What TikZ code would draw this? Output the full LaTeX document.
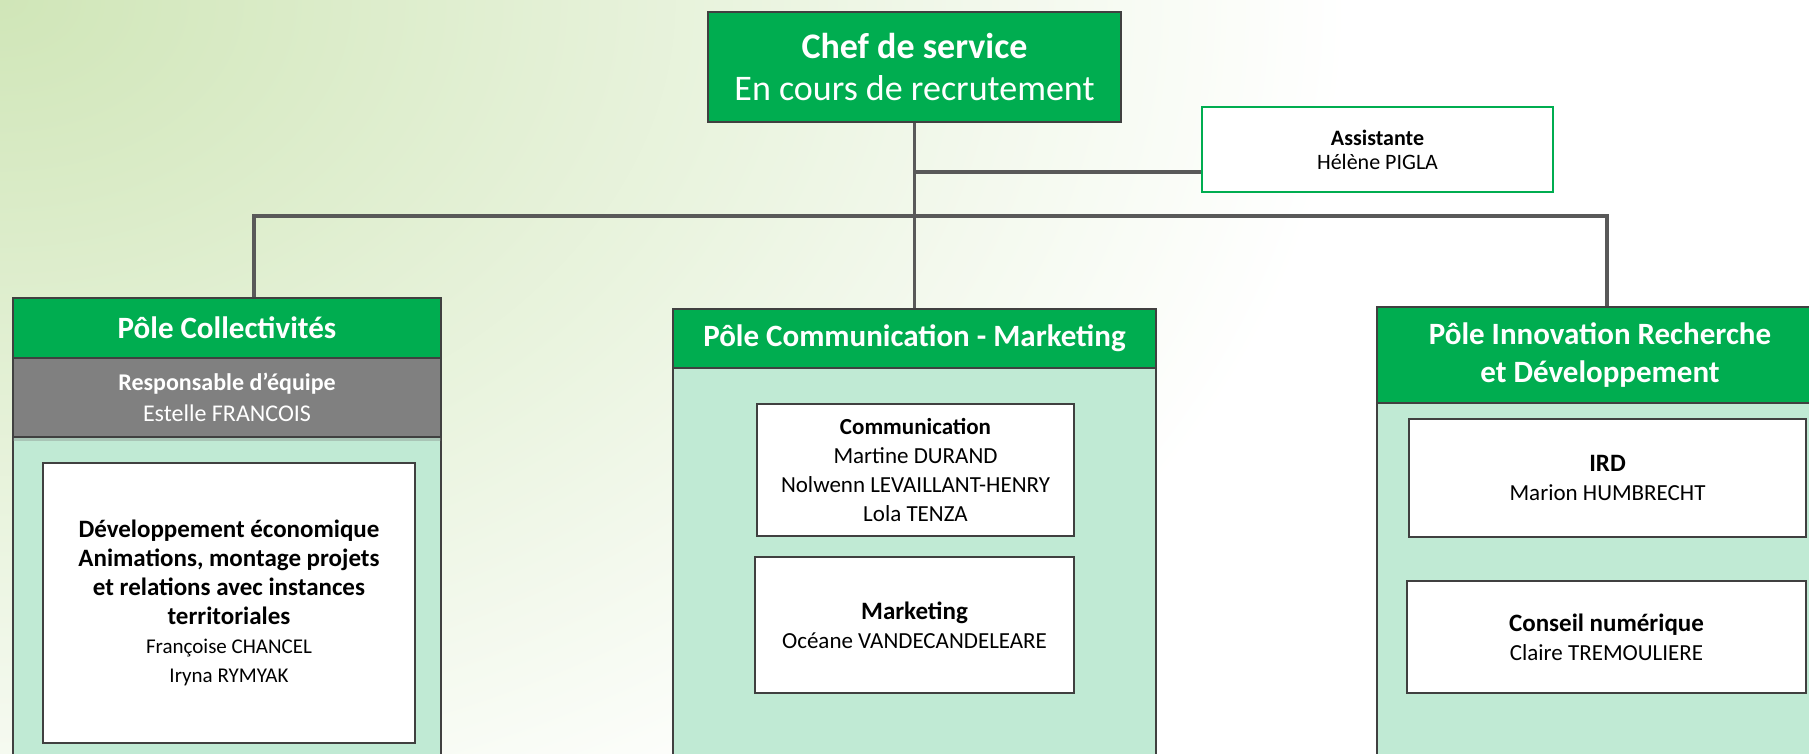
\documentclass[tikz,border=0pt]{standalone}
\usepackage{fontspec}
\setmainfont{Carlito}
\usetikzlibrary{shadows}

\definecolor{hdgreen}{RGB}{0,173,80}
\definecolor{bodygreen}{RGB}{192,234,212}
\definecolor{edgegray}{RGB}{64,64,64}
\definecolor{linegray}{RGB}{89,89,89}
\definecolor{bandgray}{RGB}{128,128,128}
\definecolor{bgcorner}{RGB}{208,230,184}

\begin{document}
\begin{tikzpicture}[x=1pt,y=-1pt]
    % Define node styles
    \tikzstyle{chefnode}=[rectangle, fill=hdgreen, draw=edgegray, line width=1.5pt, inner sep=0pt, text=white, align=center, font=\fontsize{36}{42}\selectfont]
    \tikzstyle{asstnode}=[rectangle, fill=white, draw=hdgreen, line width=1.5pt, inner sep=0pt, align=center, font=\fontsize{22}{24}\selectfont]
    \tikzstyle{polebody}=[rectangle, fill=bodygreen, draw=edgegray, line width=1.5pt, inner sep=0pt]
    \tikzstyle{polehead}=[rectangle, fill=hdgreen, draw=edgegray, line width=1.5pt, inner sep=0pt, text=white, align=center, font=\bfseries\fontsize{31}{38}\selectfont]
    \tikzstyle{bandnode}=[rectangle, fill=bandgray, draw=edgegray, line width=1.5pt, inner sep=0pt, text=white, align=center, font=\fontsize{24}{31}\selectfont, drop shadow={opacity=0.35, shadow xshift=0pt, shadow yshift=-4pt}]
    \tikzstyle{unitnode}=[rectangle, fill=white, draw=edgegray, line width=1.5pt, inner sep=0pt, align=center, font=\fontsize{23}{29}\selectfont]
    \tikzstyle{orgline}=[draw=linegray, line width=3.5pt]
    \newcommand{\unitbf}[1]{{\bfseries\fontsize{25}{31}\selectfont #1}}

    \useasboundingbox (0,0) rectangle (1809,754);
    \clip (0,0) rectangle (1809,754);

    % Background
    \fill[white] (0,0) rectangle (1809,754);
    \shade[inner color=bgcorner, outer color=white] (0,0) ellipse (1350 and 950);

    % Top level: chef and assistant
    \node[chefnode, minimum width=413pt, minimum height=110pt] (chef) at (914.5,67) {\textbf{Chef de service}\\En cours de recrutement};
    \node[asstnode, minimum width=351pt, minimum height=85pt] (asst) at (1377.5,149.5) {\textbf{Assistante}\\Hélène PIGLA};

    % Pole Collectivites
    \node[polebody, minimum width=428pt, minimum height=477pt] (colbody) at (227,536.5) {};
    \node[polehead, minimum width=428pt, minimum height=60pt] (colhead) at (227,328) {Pôle Collectivités};
    \node[bandnode, minimum width=428pt, minimum height=79pt] (colband) at (227,397.5) {\textbf{Responsable d’équipe}\\Estelle FRANCOIS};
    \node[unitnode, minimum width=372pt, minimum height=280pt, font=\fontsize{21}{29}\selectfont] (devunit) at (229,603) {\unitbf{Développement économique}\\\unitbf{Animations, montage projets}\\\unitbf{et relations avec instances}\\\unitbf{territoriales}\\Françoise CHANCEL\\Iryna RYMYAK};

    % Pole Communication - Marketing
    \node[polebody, minimum width=483pt, minimum height=466pt] (combody) at (914.5,542) {};
    \node[polehead, minimum width=483pt, minimum height=59pt] (comhead) at (914.5,338.5) {Pôle Communication - Marketing};
    \node[unitnode, minimum width=317pt, minimum height=132pt] (comunit) at (915.5,470) {\textbf{Communication}\\Martine DURAND\\Nolwenn LEVAILLANT-HENRY\\Lola TENZA};
    \node[unitnode, minimum width=319pt, minimum height=136pt] (mktunit) at (914.5,625) {\unitbf{Marketing}\\Océane VANDECANDELEARE};

    % Pole Innovation Recherche et Developpement
    \node[polebody, minimum width=446pt, minimum height=468pt] (inrbody) at (1600,541) {};
    \node[polehead, minimum width=446pt, minimum height=96pt] (inrhead) at (1600,355) {Pôle Innovation Recherche\\et Développement};
    \node[unitnode, minimum width=397pt, minimum height=118pt] (irdunit) at (1607.5,478) {\unitbf{IRD}\\Marion HUMBRECHT};
    \node[unitnode, minimum width=399pt, minimum height=112pt] (cnsunit) at (1606.5,637) {\unitbf{Conseil numérique}\\Claire TREMOULIERE};

    % Connectors
    \coordinate (asstjoin) at (914.5,172);
    \coordinate (busL) at (254,216);
    \coordinate (busR) at (1607,216);
    \draw[orgline] (chef) -- (comhead);
    \draw[orgline] (asstjoin) -- (asstjoin -| asst.west);
    \draw[orgline] (busL |- colhead.north) -- (busL) -- (busR) -- (busR |- inrhead.north);

\end{tikzpicture}
\end{document}
